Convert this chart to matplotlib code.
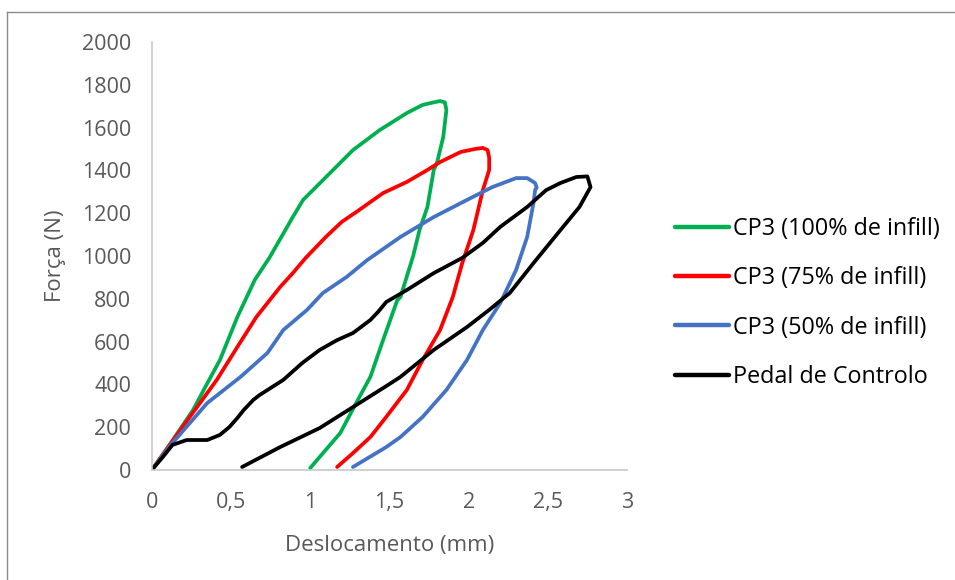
import matplotlib
matplotlib.use("Agg")
import matplotlib.pyplot as plt
from matplotlib.lines import Line2D

# Force-displacement loops (mm, N): loading branch followed by unloading branch
cp100_x = [0.0, 0.1, 0.26, 0.35, 0.43, 0.54, 0.65, 0.745, 0.89, 0.955, 1.1, 1.27, 1.44, 1.61, 1.71, 1.78,
           1.82, 1.85, 1.86, 1.85, 1.84, 1.80, 1.78, 1.74, 1.69, 1.65, 1.57, 1.55, 1.46, 1.38, 1.29,
           1.19, 1.06, 1.0]
cp100_y = [0, 105, 280, 405, 514, 715, 888, 995, 1182, 1262, 1369, 1495, 1589, 1668, 1706, 1718,
           1724, 1718, 1682, 1620, 1556, 1434, 1402, 1229, 1121, 1000, 808, 794, 607, 435, 313,
           173, 61, 9]

cp75_x = [0.0, 0.24, 0.41, 0.54, 0.66, 0.81, 0.89, 0.97, 1.1, 1.2, 1.29, 1.46, 1.61, 1.74, 1.82, 1.95, 2.04,
          2.09, 2.12, 2.13, 2.13, 2.09, 2.03, 1.96, 1.90, 1.82, 1.71, 1.61, 1.48, 1.38, 1.27, 1.17]
cp75_y = [0, 248, 421, 575, 715, 855, 920, 990, 1090, 1160, 1205, 1294, 1346, 1402, 1439, 1486, 1500,
          1505, 1495, 1460, 1402, 1308, 1121, 967, 808, 654, 514, 374, 248, 154, 79, 14]

cp50_x = [0.0, 0.13, 0.35, 0.56, 0.73, 0.83, 0.98, 1.08, 1.23, 1.36, 1.57, 1.78, 1.99, 2.15, 2.30, 2.37,
          2.42, 2.43, 2.42, 2.41, 2.37, 2.30, 2.20, 2.09, 1.99, 1.86, 1.71, 1.57, 1.48, 1.27]
cp50_y = [0, 126, 313, 435, 547, 654, 748, 827, 902, 981, 1089, 1182, 1262, 1322, 1364, 1364,
          1341, 1320, 1308, 1248, 1089, 935, 780, 654, 514, 374, 248, 154, 107, 14]

pedal_x = [0.0, 0.07, 0.13, 0.22, 0.35, 0.43, 0.49, 0.54, 0.58, 0.64, 0.68, 0.83, 0.95, 1.06, 1.17, 1.27,
           1.38, 1.43, 1.48, 1.55, 1.61, 1.78, 1.96, 2.09, 2.20, 2.37, 2.49, 2.58, 2.68, 2.75, 2.77, 2.70,
           2.58, 2.41, 2.26, 2.13, 1.99, 1.78, 1.57, 1.48, 1.27, 1.06, 0.81, 0.57]
pedal_y = [0, 61, 117, 140, 140, 164, 201, 243, 280, 327, 350, 421, 500, 561, 607, 640,
           701, 740, 785, 815, 841, 920, 991, 1061, 1136, 1229, 1308, 1341, 1369, 1372, 1322, 1229,
           1121, 967, 827, 748, 668, 561, 435, 392, 294, 196, 107, 14]

series_labels = ["CP3 (100% de infill)", "CP3 (75% de infill)", "CP3 (50% de infill)", "Pedal de Controlo"]
series_colors = ["#00b050", "#ff0000", "#4472c4", "#000000"]

x_ticks = [0, 0.5, 1, 1.5, 2, 2.5, 3]
x_tick_labels = ["0", "0,5", "1", "1,5", "2", "2,5", "3"]
y_ticks = [0, 200, 400, 600, 800, 1000, 1200, 1400, 1600, 1800, 2000]

plt.rcParams['font.family'] = ['Open Sans', 'DejaVu Sans']
text_gray = "#595959"

fig = plt.figure(figsize=(9.55, 5.8), dpi=100)
ax = fig.add_axes([0.159, 0.1897, 0.4975, 0.7379])

data = [(cp100_x, cp100_y), (cp75_x, cp75_y), (cp50_x, cp50_y), (pedal_x, pedal_y)]
for (xs, ys), lab, col in zip(data, series_labels, series_colors):
    ax.plot(xs, ys, color=col, lw=2.7, label=lab, solid_joinstyle='round', solid_capstyle='round')

ax.set_xlim(0, 3)
ax.set_ylim(0, 2000)
ax.set_xticks(x_ticks)
ax.set_xticklabels(x_tick_labels)
ax.set_yticks(y_ticks)
ax.tick_params(axis='x', length=0, labelsize=15.5, colors=text_gray, pad=16)
ax.tick_params(axis='y', length=0, labelsize=15.5, colors=text_gray, pad=15)
for side in ["top", "right"]:
    ax.spines[side].set_visible(False)
for side in ["left", "bottom"]:
    ax.spines[side].set_color("#c8c8c8")
    ax.spines[side].set_linewidth(1.2)

ax.set_xlabel("Deslocamento (mm)", fontsize=16, color=text_gray, labelpad=16)
ax.set_ylabel("Força (N)", fontsize=16, color=text_gray, labelpad=11)

leg = ax.legend(loc="center left", bbox_to_anchor=(1.057, 0.39), frameon=False, fontsize=16.8,
                handlelength=2.3, handletextpad=0.2, labelspacing=1.08)
for h in leg.get_lines():
    h.set_linewidth(3.2)

# Chart border
fig.add_artist(Line2D([7 / 955, 7 / 955], [0, 1 - 12 / 580], transform=fig.transFigure,
                      color="#8c8c8c", lw=1.0))
fig.add_artist(Line2D([7 / 955, 1], [1 - 12 / 580, 1 - 12 / 580], transform=fig.transFigure,
                      color="#8c8c8c", lw=1.0))

fig.savefig("out.png", dpi=100, facecolor="white")
